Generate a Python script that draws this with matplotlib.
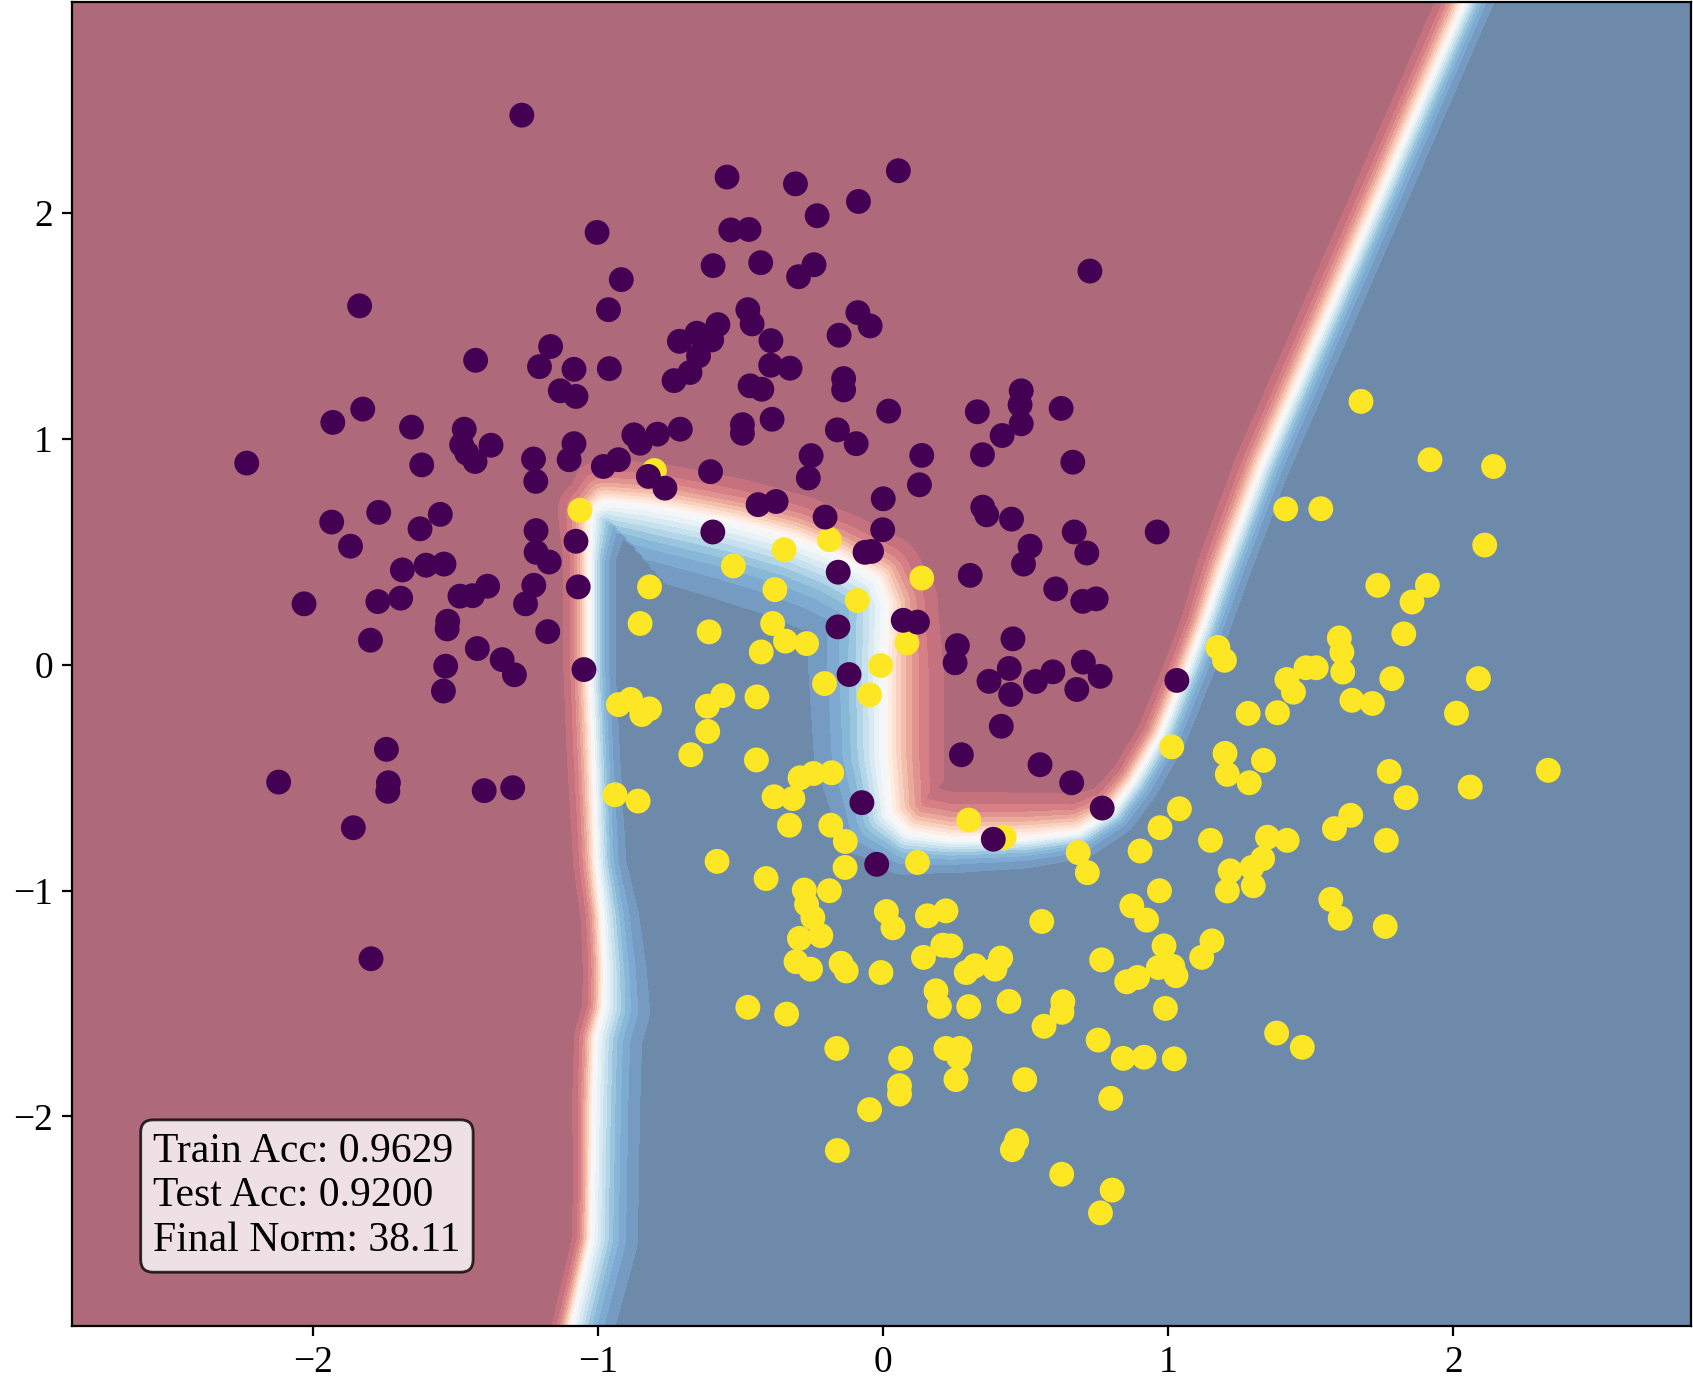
import numpy as np
import matplotlib
matplotlib.use("Agg")
import matplotlib.pyplot as plt
from matplotlib.path import Path
from matplotlib.colors import ListedColormap

plt.rcParams['font.family'] = ['Liberation Serif', 'DejaVu Serif']

# class 0 (purple)
class0_x = [-1.268, -1.837, -1.430, -1.167, -1.206, -1.133, -1.826, -1.931, -1.655, -1.470,
            -1.479, -1.461, -1.432, -1.376, -1.227, -2.233, -1.619, -1.102, -1.219, -1.935,
            -1.770, -1.554, -1.625, -1.869, -1.218, -1.218, -1.172, -1.687, -1.604, -1.541,
            -1.226, -1.255, -2.032, -1.773, -1.693, -1.485, -1.441, -1.388, -1.528, -1.530,
            -1.177, -1.799, -1.424, -1.337, -1.294, -1.535, -1.543, -1.743, -2.121, -1.736,
            -1.738, -1.400, -1.300, -1.859, -1.797,
            -0.548, -0.308, -0.087, 0.053, -1.004, -0.535, -0.471, -0.232, -0.919, -0.597,
            -0.430, -0.243, -0.297, -0.964, -0.475, -0.460, -0.089, -0.046, -0.155, -0.580,
            -0.654, -0.715, -0.602, -0.648, -0.678, -0.734, -0.394, -0.395, -0.327, -0.467,
            -0.426, -0.139, -0.139, 0.019, -0.961, -1.085, -1.078, -0.494, -0.494, -0.390,
            -0.712, -0.792, -0.875, -0.853, -1.085, -0.929, -0.982, -0.606, -0.161, -0.095,
            -0.253, 0.725, 0.484, 0.480, 0.484, 0.417, 0.330, 0.624, 0.135, 0.348,
            0.665, -0.824, -0.766, -0.263, -0.439, -0.376, -0.204, 0.000, -0.002, -0.064,
            -0.041, -0.158, -0.598, -1.078, -1.070, -1.050, -0.159, -0.120, -0.075, 0.127,
            0.349, 0.363, 0.450, 0.670, 0.961, 0.515, 0.492, 0.714, 0.305, 0.605,
            0.700, 0.747, 0.070, 0.120, 0.260, 0.252, 0.455, 0.442, 0.371, 0.447,
            0.534, 0.595, 0.702, 0.761, 0.679, 1.030, 0.414, 0.274, 0.550, 0.661,
            0.768, 0.386, -0.023]
class0_y = [2.432, 1.588, 1.347, 1.408, 1.319, 1.212, 1.131, 1.072, 1.051, 1.042,
            0.973, 0.936, 0.899, 0.971, 0.910, 0.892, 0.884, 0.907, 0.811, 0.631,
            0.674, 0.665, 0.601, 0.524, 0.593, 0.497, 0.454, 0.419, 0.440, 0.445,
            0.351, 0.269, 0.269, 0.279, 0.294, 0.303, 0.305, 0.347, 0.192, 0.158,
            0.146, 0.108, 0.071, 0.022, -0.045, -0.007, -0.117, -0.375, -0.520, -0.523,
            -0.561, -0.558, -0.545, -0.722, -1.302,
            2.158, 2.128, 2.050, 2.186, 1.913, 1.924, 1.926, 1.987, 1.704, 1.766,
            1.779, 1.770, 1.717, 1.571, 1.571, 1.508, 1.558, 1.499, 1.458, 1.505,
            1.467, 1.431, 1.437, 1.367, 1.293, 1.257, 1.434, 1.325, 1.312, 1.234,
            1.219, 1.266, 1.216, 1.122, 1.310, 1.307, 1.187, 1.062, 1.024, 1.086,
            1.042, 1.020, 1.017, 0.980, 0.978, 0.907, 0.877, 0.854, 1.039, 0.978,
            0.925, 1.742, 1.212, 1.150, 1.066, 1.014, 1.119, 1.134, 0.926, 0.929,
            0.896, 0.833, 0.781, 0.826, 0.708, 0.722, 0.653, 0.734, 0.597, 0.497,
            0.501, 0.409, 0.587, 0.546, 0.344, -0.022, 0.167, -0.044, -0.611, 0.796,
            0.697, 0.663, 0.644, 0.587, 0.587, 0.524, 0.445, 0.494, 0.395, 0.335,
            0.280, 0.291, 0.196, 0.188, 0.084, 0.008, 0.114, -0.017, -0.074, -0.132,
            -0.075, -0.032, 0.011, -0.052, -0.110, -0.070, -0.273, -0.399, -0.443, -0.523,
            -0.635, -0.773, -0.884]

# class 1 (yellow)
class1_x = [-1.064, -0.803, -0.820, -0.853, -0.611, -0.526, -0.348, -0.189, -0.380, -0.091,
            -0.388, -0.343, -0.269, -0.428, -0.009, -0.206, -0.048, -0.929, -0.886, -0.847,
            -0.820, -0.617, -0.563, -0.616, -0.443, -0.675, -0.445, -0.941, -0.860, -0.292,
            -0.245, -0.181, -0.383, -0.317, -0.329, -0.184, -0.133, -0.134, 0.135, 0.083,
            0.300, 0.424, 1.012, 1.039, 0.971, 1.174, 1.197, 1.199, 1.207, 1.148,
            1.412, 1.535, 2.110, 1.735, 1.909, 1.855, 1.826, 1.600, 1.609, 1.612,
            1.483, 1.519, 1.416, 1.439, 1.784, 2.088, 1.644, 1.716, 1.280, 1.383,
            2.011, 1.334, 1.284, 1.775, 1.834, 2.059, 2.333, 1.640, 1.583, 1.348,
            1.417, 1.765, 1.676, 1.918, 2.141, -0.583, -0.411, -0.277, -0.189, -0.269,
            -0.247, -0.294, -0.219, -0.306, -0.255, -0.148, -0.130, -0.008, 0.011, 0.034,
            -0.475, -0.339, -0.163, -0.048, -0.161, 0.061, 0.057, 0.057, 0.120, 0.684,
            0.716, 0.901, 0.969, 0.872, 0.924, 0.155, 0.220, 0.556, 0.141, 0.209,
            0.237, 0.291, 0.322, 0.392, 0.412, 0.185, 0.197, 0.300, 0.441, 0.630,
            0.627, 0.564, 0.766, 0.854, 0.892, 0.985, 0.965, 1.016, 1.027, 0.990,
            1.117, 1.153, 0.754, 0.842, 0.915, 1.021, 0.798, 0.220, 0.269, 0.264,
            0.255, 0.496, 0.468, 0.453, 0.626, 0.803, 0.762, 1.217, 1.293, 1.331,
            1.298, 1.207, 1.570, 1.603, 1.761, 1.380, 1.470]
class1_y = [0.683, 0.859, 0.344, 0.182, 0.145, 0.437, 0.509, 0.553, 0.332, 0.284,
            0.182, 0.104, 0.093, 0.056, -0.004, -0.084, -0.134, -0.177, -0.154, -0.221,
            -0.196, -0.184, -0.137, -0.296, -0.143, -0.399, -0.422, -0.576, -0.604, -0.501,
            -0.482, -0.479, -0.585, -0.593, -0.711, -0.711, -0.783, -0.898, 0.383, 0.096,
            -0.688, -0.764, -0.364, -0.638, -0.722, 0.076, 0.019, -0.393, -0.486, -0.778,
            0.689, 0.690, 0.529, 0.351, 0.351, 0.277, 0.136, 0.118, 0.055, -0.033,
            -0.014, -0.014, -0.066, -0.122, -0.062, -0.062, -0.158, -0.172, -0.216, -0.213,
            -0.215, -0.424, -0.523, -0.473, -0.589, -0.542, -0.468, -0.667, -0.726, -0.764,
            -0.778, -0.778, 1.165, 0.907, 0.877, -0.871, -0.947, -0.998, -1.001, -1.061,
            -1.120, -1.212, -1.200, -1.315, -1.348, -1.322, -1.356, -1.363, -1.093, -1.165,
            -1.517, -1.547, -1.699, -1.970, -2.151, -1.743, -1.864, -1.901, -0.876, -0.832,
            -0.921, -0.825, -1.001, -1.068, -1.131, -1.112, -1.090, -1.137, -1.296, -1.242,
            -1.245, -1.363, -1.333, -1.348, -1.299, -1.444, -1.513, -1.514, -1.491, -1.492,
            -1.539, -1.601, -1.307, -1.404, -1.385, -1.245, -1.341, -1.336, -1.377, -1.522,
            -1.296, -1.223, -1.662, -1.743, -1.738, -1.745, -1.920, -1.699, -1.699, -1.738,
            -1.837, -1.837, -2.107, -2.147, -2.256, -2.326, -2.427, -0.913, -0.898, -0.859,
            -0.979, -1.002, -1.039, -1.123, -1.159, -1.631, -1.694]

# p = 0.5 line of the classifier, traced bottom -> top
bound_x = [-1.102, -1.023, -1.019, -1.015, -1.008, -0.980, -0.977, -0.985, -1.004, -1.015,
           -1.027, -1.027, -1.023, -0.977, -0.822, -0.523, -0.314, -0.163, -0.023, 0.008,
           0.000, 0.000, 0.019, 0.083, 0.235, 0.500, 0.689, 0.803, 0.879, 0.973,
           1.068, 1.125, 1.193, 1.330, 2.061]
bound_y = [-2.979, -2.544, -2.248, -1.947, -1.651, -1.523, -1.356, -1.117, -0.878, -0.401,
           -0.019, 0.458, 0.673, 0.716, 0.697, 0.625, 0.554, 0.477, 0.377, 0.267,
           -0.019, -0.401, -0.663, -0.749, -0.778, -0.773, -0.745, -0.649, -0.520, -0.315,
           -0.019, 0.172, 0.420, 0.878, 2.988]
# how far the colour ramp spreads on the red / blue side at each vertex (x units)
ramp_red = [0.068, 0.068, 0.068, 0.076, 0.076, 0.076, 0.076, 0.076, 0.083, 0.095,
            0.095, 0.095, 0.120, 0.150, 0.160, 0.160, 0.160, 0.160, 0.170, 0.185,
            0.215, 0.215, 0.200, 0.180, 0.170, 0.165, 0.140, 0.100, 0.085, 0.083,
            0.083, 0.083, 0.095, 0.098, 0.098]
ramp_blue = [0.152, 0.167, 0.167, 0.167, 0.167, 0.167, 0.152, 0.133, 0.106, 0.095,
             0.091, 0.091, 0.150, 0.200, 0.250, 0.280, 0.290, 0.290, 0.290, 0.280,
             0.270, 0.250, 0.200, 0.150, 0.120, 0.106, 0.095, 0.095, 0.095, 0.095,
             0.095, 0.095, 0.098, 0.098, 0.098]

xlim = (-2.845, 2.833)
ylim = (-2.927, 2.932)

fig = plt.figure(figsize=(8.465, 6.925), dpi=200)
ax = fig.add_axes([0.0427, 0.0427, 0.956, 0.9557])
ax.set_xlim(*xlim)
ax.set_ylim(*ylim)

# pixel aspect so the distances are measured like on screen
bb = ax.get_window_extent()
asp = (bb.height / (ylim[1] - ylim[0])) / (bb.width / (xlim[1] - xlim[0]))

xx, yy = np.meshgrid(np.linspace(xlim[0], xlim[1], 500), np.linspace(ylim[0], ylim[1], 500))
gx = xx.ravel()
gy = yy.ravel() * asp
bx = np.array(bound_x)
by = np.array(bound_y) * asp
rr = np.array(ramp_red)
rb = np.array(ramp_blue)

best = np.full(gx.shape, np.inf)
wr = np.zeros(gx.shape)
wb = np.zeros(gx.shape)
for i in range(len(bx) - 1):
    ex, ey = bx[i + 1] - bx[i], by[i + 1] - by[i]
    t = np.clip(((gx - bx[i]) * ex + (gy - by[i]) * ey) / (ex * ex + ey * ey), 0, 1)
    d = np.hypot(gx - bx[i] - t * ex, gy - by[i] - t * ey)
    m = d < best
    best[m] = d[m]
    wr[m] = (rr[i] + t * (rr[i + 1] - rr[i]))[m]
    wb[m] = (rb[i] + t * (rb[i + 1] - rb[i]))[m]

poly = list(zip(bound_x, bound_y)) + [(2.3, 3.5), (3.5, 3.5), (3.5, -3.5), (-1.11, -3.5)]
inside = Path(poly).contains_points(np.column_stack([xx.ravel(), yy.ravel()]))
sd = np.where(inside, best / (wb / 3), -best / (wr / 3))
zz = (1 / (1 + np.exp(-sd))).reshape(xx.shape)

# RdBu at 60% over white, baked in so band edges don't double up
rgba = plt.get_cmap('RdBu')(np.linspace(0, 1, 256))
rgba[:, :3] = rgba[:, :3] * 0.6 + 0.4
soft_rdbu = ListedColormap(rgba)
ax.contourf(xx, yy, zz, levels=np.linspace(0, 1, 21), cmap=soft_rdbu)

ax.scatter(class1_x, class1_y, c=[1] * len(class1_x), cmap='viridis', vmin=0, vmax=1, s=80, linewidths=0)
ax.scatter(class0_x, class0_y, c=[0] * len(class0_x), cmap='viridis', vmin=0, vmax=1, s=80, linewidths=0)

ax.text(0.05, 0.05, "Train Acc: 0.9629\nTest Acc: 0.9200\nFinal Norm: 38.11",
        transform=ax.transAxes, fontsize=15, va='bottom',
        bbox=dict(boxstyle='round', facecolor='white', alpha=0.8))

ax.set_xticks([-2, -1, 0, 1, 2])
ax.set_yticks([-2, -1, 0, 1, 2])
ax.tick_params(labelsize=13.5)

fig.savefig("out.png", dpi=200)
